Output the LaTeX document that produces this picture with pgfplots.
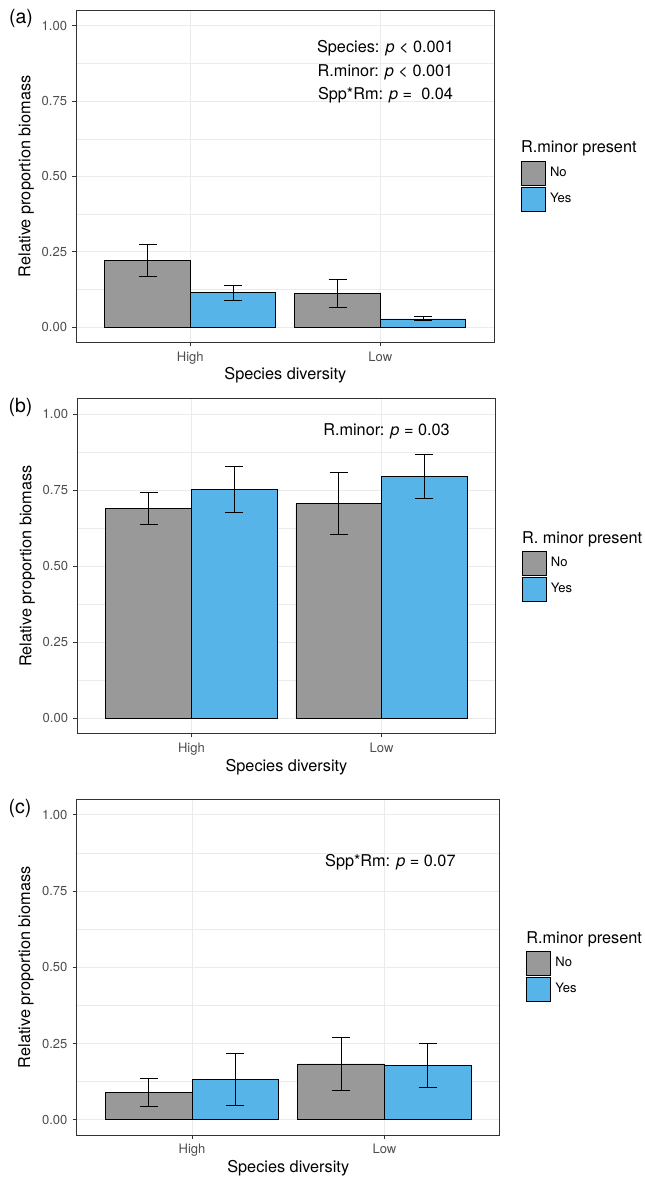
\documentclass[border=0pt]{standalone}
\usepackage{fontspec}
\setmainfont{TeX Gyre Heros}
\usepackage{pgfplots}
\pgfplotsset{compat=1.18}
\definecolor{cgray}{HTML}{999999}
\definecolor{cblue}{HTML}{56B4E9}
\definecolor{gridc}{HTML}{EBEBEB}
\definecolor{frame}{HTML}{333333}
\definecolor{ticklab}{HTML}{4D4D4D}
\pgfplotsset{
  panel/.style={
    scale only axis,
    xmin=0.4, xmax=2.6, ymin=-0.05, ymax=1.05,
    xtick={1,2}, xticklabels={High,Low},
    ytick={0,0.25,0.5,0.75,1}, yticklabels={0.00,0.25,0.50,0.75,1.00},
    minor ytick={0.125,0.375,0.625,0.875},
    xmajorgrids, ymajorgrids, yminorgrids,
    major grid style={draw=gridc, line width=0.6pt},
    minor grid style={draw=gridc, line width=0.3pt},
    tick align=outside, tick pos=left,
    major tick length=2.75pt, minor tick length=0pt,
    tick style={draw=frame, line width=0.6pt},
    axis line style={draw=frame, line width=0.65pt},
    tick label style={font=\fontsize{8.8}{10}\selectfont, text=ticklab},
    label style={font=\fontsize{11}{13}\selectfont},
    xlabel={Species diversity}, ylabel={Relative proportion biomass},
    xlabel style={at={(axis description cs:0.5,-0.1)}, anchor=center},
    ylabel style={at={(axis description cs:-0.12,0.5)}, anchor=center},
    legend cell align=left,
    legend style={draw=none, fill=none, inner sep=0pt, outer sep=0pt,
      anchor=north west, font=\fontsize{8.8}{10}\selectfont,
      row sep=0.7pt, column sep=2.9pt, nodes={inner sep=0pt, outer sep=0pt}},
  },
  errs/.style={error bars/.cd, y dir=both, y explicit,
    error bar style={line width=0.55pt, black},
    error mark options={rotate=90, line width=0.55pt, black, mark size=6.1pt}},
  gbar/.style={ybar, bar width=0.45, bar shift=0pt, fill=cgray, draw=black, line width=0.55pt, forget plot, errs},
  bbar/.style={ybar, bar width=0.45, bar shift=0pt, fill=cblue, draw=black, line width=0.55pt, forget plot, errs},
  keyno/.style={legend image code/.code={%
      \filldraw[fill=cgray, draw=black, line width=0.5pt] (0pt,-8.2pt) rectangle (16.4pt,8.2pt);}},
  keyyes/.style={legend image code/.code={%
      \filldraw[fill=cblue, draw=black, line width=0.5pt] (0pt,-8.2pt) rectangle (16.4pt,8.2pt);}},
}
\begin{document}
\begin{tikzpicture}
\path[use as bounding box] (0pt,0pt) rectangle (436.0pt,797.0pt);

% ---------- (a) ----------
\begin{axis}[panel, at={(51.58pt,565.6pt)}, anchor=south west, width=282.6pt, height=224.2pt,
  legend style={at={(1.0632,0.5476)}}]
\addplot[gbar] coordinates {(0.775,0.222) += (0,0.053) -= (0,0.052)
                            (1.775,0.111) += (0,0.047) -= (0,0.046)};
\addplot[bbar] coordinates {(1.225,0.114) += (0,0.025) -= (0,0.0245)
                            (2.225,0.0275) += (0,0.0075) -= (0,0.0065)};
\addlegendimage{keyno}\addlegendentry{No}
\addlegendimage{keyyes}\addlegendentry{Yes}
\node[anchor=base, inner sep=0pt, font=\fontsize{11}{13}\selectfont] at (axis cs:2.027,0.9105) {Species: \textit{p} < 0.001};
\node[anchor=base, inner sep=0pt, font=\fontsize{11}{13}\selectfont] at (axis cs:2.027,0.8332) {R.minor: \textit{p} < 0.001};
\node[anchor=base, inner sep=0pt, font=\fontsize{11}{13}\selectfont] at (axis cs:2.027,0.756) {Spp*Rm: \textit{p} = \ 0.04};
\end{axis}
\node[anchor=base west, inner sep=0pt, font=\fontsize{11}{13}\selectfont] at (352.0pt,693.8pt) {R.minor present};
\node[font=\fontsize{13.2}{15}\selectfont] at (14.2pt,784.2pt) {(a)};

% ---------- (b) ----------
\begin{axis}[panel, at={(52.25pt,301.3pt)}, anchor=south west, width=282.8pt, height=226.0pt,
  legend style={at={(1.0622,0.5462)}}]
\addplot[gbar] coordinates {(0.775,0.689) += (0,0.052) -= (0,0.052)
                            (1.775,0.705) += (0,0.104) -= (0,0.102)};
\addplot[bbar] coordinates {(1.225,0.753) += (0,0.075) -= (0,0.076)
                            (2.225,0.794) += (0,0.074) -= (0,0.071)};
\addlegendimage{keyno}\addlegendentry{No}
\addlegendimage{keyyes}\addlegendentry{Yes}
\node[anchor=base, inner sep=0pt, font=\fontsize{11}{13}\selectfont] at (axis cs:2.026,0.931) {R.minor: \textit{p} = 0.03};
\end{axis}
\node[anchor=base west, inner sep=0pt, font=\fontsize{11}{13}\selectfont] at (352.7pt,429.7pt) {R. minor present};
\node[font=\fontsize{13.2}{15}\selectfont] at (13.86pt,521.5pt) {(b)};

% ---------- (c) ----------
\begin{axis}[panel, at={(51.85pt,29.74pt)}, anchor=south west, width=286.0pt, height=226.7pt,
  legend style={at={(1.0622,0.5497)}}]
\addplot[gbar] coordinates {(0.775,0.0884) += (0,0.0466) -= (0,0.0458)
                            (1.775,0.183) += (0,0.088) -= (0,0.087)};
\addplot[bbar] coordinates {(1.225,0.133) += (0,0.086) -= (0,0.086)
                            (2.225,0.178) += (0,0.073) -= (0,0.072)};
\addlegendimage{keyno}\addlegendentry{No}
\addlegendimage{keyyes}\addlegendentry{Yes}
\node[anchor=base, inner sep=0pt, font=\fontsize{11}{13}\selectfont] at (axis cs:2.031,0.831) {Spp*Rm: \textit{p} = 0.07};
\end{axis}
\node[anchor=base west, inner sep=0pt, font=\fontsize{11}{13}\selectfont] at (355.6pt,159.3pt) {R.minor present};
\node[font=\fontsize{13.2}{15}\selectfont] at (13.5pt,250.8pt) {(c)};
\end{tikzpicture}
\end{document}
